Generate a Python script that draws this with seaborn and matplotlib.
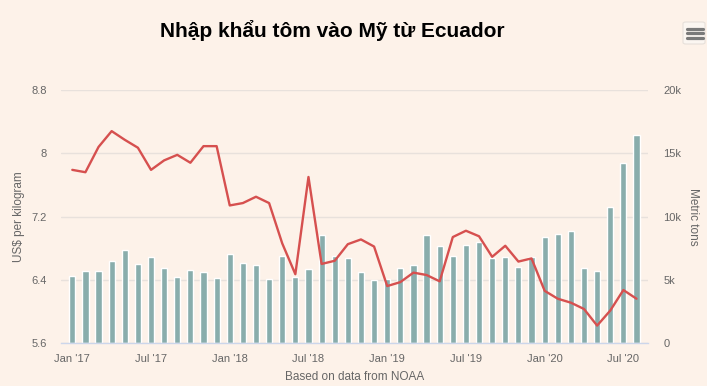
import numpy as np
import pandas as pd
import matplotlib
matplotlib.use("Agg")
import matplotlib.pyplot as plt
import seaborn as sns
from matplotlib.lines import Line2D
from matplotlib.patches import FancyBboxPatch

# ── Data ──────────────────────────────────────────────────────────────────────

months = pd.date_range("2017-01-01", "2020-08-01", freq="MS")

# monthly imports, metric tons
tons = [
    5300, 5690, 5690, 6480, 7350, 6270, 6800, 5930, 5220, 5770, 5610, 5140,
    7060, 6350, 6190, 5060, 6900, 5220, 5870, 8560, 6900, 6720, 5610, 4980,
    5060, 5930, 6190, 8560, 7690, 6900, 7770, 7980, 6720, 6820, 6030, 6800,
    8400, 8640, 8850, 5930, 5720, 10780, 14250, 16470,
]

# average price, US$ per kilogram
price = [
    7.79, 7.76, 8.08, 8.28, 8.17, 8.07, 7.79, 7.91, 7.98, 7.88, 8.09, 8.09,
    7.34, 7.37, 7.45, 7.37, 6.86, 6.47, 7.70, 6.60, 6.64, 6.85, 6.91, 6.82,
    6.32, 6.37, 6.49, 6.46, 6.38, 6.94, 7.02, 6.95, 6.69, 6.83, 6.63, 6.67,
    6.26, 6.16, 6.11, 6.03, 5.82, 6.01, 6.27, 6.16,
]

tick_idx = [0, 6, 12, 18, 24, 30, 36, 42]
tick_labels = ["Jan '17", "Jul '17", "Jan '18", "Jul '18",
               "Jan '19", "Jul '19", "Jan '20", "Jul '20"]

price_ticks = [5.6, 6.4, 7.2, 8.0, 8.8]
price_labels = ["5.6", "6.4", "7.2", "8", "8.8"]
tons_ticks = [0, 5000, 10000, 15000, 20000]
tons_labels = ["0", "5k", "10k", "15k", "20k"]

df = pd.DataFrame({"idx": np.arange(len(months)), "tons": tons, "price": price})

# ── Style ─────────────────────────────────────────────────────────────────────

BG = "#fdf2e9"
BAR = "#89adac"
LINE = "#d6504f"
GRID = "#e8e1dc"
AXIS = "#ccd6eb"
TXT = "#666666"

sns.set_theme(style="white")
plt.rcParams["font.family"] = ["Liberation Sans", "DejaVu Sans"]

fig = plt.figure(figsize=(7.07, 3.86), dpi=100, facecolor=BG)
ax = fig.add_axes([0.0863, 0.1114, 0.8303, 0.6554])
ax2 = ax.twinx()

# bars on the right axis, behind the price line
ax2.set_zorder(0)
ax.set_zorder(1)
ax.patch.set_visible(False)
ax2.patch.set_facecolor(BG)

sns.barplot(data=df, x="idx", y="tons", color=BAR, width=0.47,
            saturation=1, ax=ax2)
sns.lineplot(data=df, x="idx", y="price", color=LINE, linewidth=1.7, ax=ax)

xlim = (-0.86, 43.88)
for a in (ax, ax2):
    a.set_xlim(*xlim)
    for s in a.spines.values():
        s.set_visible(False)

ax.set_ylim(5.6, 8.8)
ax2.set_ylim(0, 20000)

ax2.set_yticks(tons_ticks)
ax2.set_yticklabels(tons_labels)
ax2.yaxis.grid(True, color=GRID, linewidth=1)
ax2.set_axisbelow(True)
ax2.tick_params(axis="y", length=0, pad=11, labelsize=8, labelcolor=TXT)
ax2.set_ylabel("Metric tons", rotation=270, fontsize=8.5, color=TXT, labelpad=13)
ax2.set_xlabel("")

ax.set_yticks(price_ticks)
ax.set_yticklabels(price_labels)
ax.tick_params(axis="y", length=0, pad=10, labelsize=8, labelcolor=TXT)
ax.set_ylabel("US$ per kilogram", fontsize=8.5, color=TXT, labelpad=5)

ax.set_xticks(tick_idx)
ax.set_xticklabels(tick_labels)
ax.tick_params(axis="x", length=7, width=1, color=AXIS, pad=1,
               labelsize=8, labelcolor=TXT)
ax2.tick_params(axis="x", length=0)
ax.spines["bottom"].set_visible(True)
ax.spines["bottom"].set_color(AXIS)
ax.spines["bottom"].set_linewidth(1)
ax.set_xlabel("Based on data from NOAA", fontsize=8.5, color=TXT, labelpad=5)

fig.text(0.4696, 0.921, "Nhập khẩu tôm vào Mỹ từ Ecuador", ha="center",
         va="center", fontsize=15, fontweight="bold", color="black")

# export-menu button, top right
fig.add_artist(FancyBboxPatch((683 / 707, 1 - 44 / 386), 22 / 707, 22 / 386,
                              boxstyle="round,pad=0,rounding_size=0.004",
                              transform=fig.transFigure, facecolor="#fbf6f1",
                              edgecolor="#e6e0da", linewidth=0.8))
for yy in (28.5, 33.3, 38.1):
    fig.add_artist(Line2D([687 / 707, 703 / 707], [1 - yy / 386] * 2,
                          transform=fig.transFigure, color="#7a7a7a",
                          linewidth=2.3, solid_capstyle="round"))

fig.savefig("out.png", dpi=100, facecolor=BG)
